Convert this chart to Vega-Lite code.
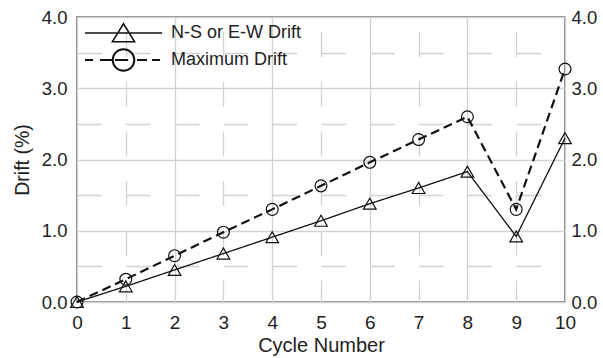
{
  "$schema": "https://vega.github.io/schema/vega-lite/v6.json",
  "width": 488,
  "height": 285,
  "autosize": "none",
  "padding": {"left": 77, "top": 17, "right": 38, "bottom": 56},
  "background": "white",
  "config": {
    "view": {"stroke": "#666666", "strokeWidth": 1.5},
    "font": "Liberation Sans",
    "axis": {
      "domain": false,
      "ticks": false,
      "labelFont": "Liberation Sans",
      "labelFontSize": 18.5,
      "labelColor": "#222222",
      "titleFont": "Liberation Sans",
      "titleFontSize": 19.5,
      "titleFontWeight": "normal",
      "titleColor": "#222222",
      "gridColor": "#d2d2d2",
      "gridWidth": 1.3,
      "gridOpacity": 1
    }
  },
  "data": {
    "values": [
      {"cycle": 0, "series": "N-S or E-W Drift", "kind": "NS", "drift": 0.0},
      {"cycle": 1, "series": "N-S or E-W Drift", "kind": "NS", "drift": 0.22},
      {"cycle": 2, "series": "N-S or E-W Drift", "kind": "NS", "drift": 0.45},
      {"cycle": 3, "series": "N-S or E-W Drift", "kind": "NS", "drift": 0.68},
      {"cycle": 4, "series": "N-S or E-W Drift", "kind": "NS", "drift": 0.91},
      {"cycle": 5, "series": "N-S or E-W Drift", "kind": "NS", "drift": 1.14},
      {"cycle": 6, "series": "N-S or E-W Drift", "kind": "NS", "drift": 1.38},
      {"cycle": 7, "series": "N-S or E-W Drift", "kind": "NS", "drift": 1.6},
      {"cycle": 8, "series": "N-S or E-W Drift", "kind": "NS", "drift": 1.83},
      {"cycle": 9, "series": "N-S or E-W Drift", "kind": "NS", "drift": 0.92},
      {"cycle": 10, "series": "N-S or E-W Drift", "kind": "NS", "drift": 2.3},
      {"cycle": 0, "series": "Maximum Drift", "kind": "MAX", "drift": 0.0},
      {"cycle": 1, "series": "Maximum Drift", "kind": "MAX", "drift": 0.32},
      {"cycle": 2, "series": "Maximum Drift", "kind": "MAX", "drift": 0.65},
      {"cycle": 3, "series": "Maximum Drift", "kind": "MAX", "drift": 0.98},
      {"cycle": 4, "series": "Maximum Drift", "kind": "MAX", "drift": 1.3},
      {"cycle": 5, "series": "Maximum Drift", "kind": "MAX", "drift": 1.63},
      {"cycle": 6, "series": "Maximum Drift", "kind": "MAX", "drift": 1.96},
      {"cycle": 7, "series": "Maximum Drift", "kind": "MAX", "drift": 2.28},
      {"cycle": 8, "series": "Maximum Drift", "kind": "MAX", "drift": 2.6},
      {"cycle": 9, "series": "Maximum Drift", "kind": "MAX", "drift": 1.3},
      {"cycle": 10, "series": "Maximum Drift", "kind": "MAX", "drift": 3.27}
    ]
  },
  "encoding": {
    "x": {
      "field": "cycle",
      "type": "quantitative",
      "scale": {"domain": [0, 10], "nice": false},
      "axis": {
        "title": "Cycle Number",
        "values": [0, 1, 2, 3, 4, 5, 6, 7, 8, 9, 10],
        "format": "d",
        "labelFontSize": 19,
        "labelFlush": false,
        "labelPadding": 11,
        "titlePadding": 3,
        "titleFontSize": 20,
        "grid": true,
        "gridDash": {"condition": {"test": "datum.value % 2 === 1", "value": [25, 24.7]}, "value": []},
        "gridDashOffset": 35.2
      }
    }
  },
  "layer": [
    {
      "mark": {"type": "line", "color": "#111111"},
      "encoding": {
        "y": {
          "field": "drift",
          "type": "quantitative",
          "scale": {"domain": [0, 4], "nice": false},
          "axis": {
            "orient": "left",
            "title": "Drift (%)",
            "values": [0, 0.5, 1, 1.5, 2, 2.5, 3, 3.5, 4],
            "labelExpr": "datum.value % 1 === 0 ? format(datum.value, '.1f') : ''",
            "labelOverlap": false,
            "labelPadding": 10,
            "titlePadding": 9,
            "grid": true,
            "gridDash": {"condition": {"test": "datum.value % 1 !== 0", "value": [24.4, 24.4]}, "value": []}
          }
        },
        "detail": {"field": "kind", "type": "nominal"},
        "color": {
          "field": "series",
          "type": "nominal",
          "scale": {"domain": ["N-S or E-W Drift", "Maximum Drift"], "range": ["#111111", "#111111"]},
          "legend": {
            "orient": "none",
            "legendX": 8,
            "legendY": 7,
            "title": null,
            "padding": 0,
            "symbolType": "M-1,0H1",
            "symbolSize": 5929,
            "symbolStrokeColor": "#111111",
            "symbolFillColor": "transparent",
            "labelFont": "Liberation Sans",
            "labelFontSize": 18,
            "labelColor": "#222222",
            "rowPadding": 0,
            "encode": {
              "symbols": {
                "update": {
                  "shape": {"signal": "datum.value === 'Maximum Drift' ? 'M-1,0H-0.79M-0.61,0H-0.3M-0.22,0H0.12M0.35,0H0.61M0.74,0H0.95M0.28,0A0.28,0.28 0 1,1 -0.28,0A0.28,0.28 0 1,1 0.28,0Z' : 'M-1,0H1M0,-0.24L0.29,0.23L-0.29,0.23Z'"},
                  "size": {"value": 5929},
                  "x": {"value": 38.5},
                  "strokeWidth": {"signal": "datum.value === 'Maximum Drift' ? 2 : 1.5"},
                  "stroke": {"value": "#111111"},
                  "fill": {"value": "transparent"}
                }
              },
              "labels": {
                "update": {
                  "x": {"value": 86}
                }
              }
            }
          }
        },
        "strokeDash": {
          "field": "kind",
          "type": "nominal",
          "scale": {"domain": ["NS", "MAX"], "range": [[1, 0], [9, 5]]},
          "legend": null
        },
        "strokeWidth": {
          "field": "kind",
          "type": "nominal",
          "scale": {"domain": ["NS", "MAX"], "range": [1.3, 2.2]},
          "legend": null
        }
      }
    },
    {
      "mark": {"type": "point", "filled": false, "stroke": "#111111", "strokeWidth": 1.2, "opacity": 1},
      "encoding": {
        "y": {
          "field": "drift",
          "type": "quantitative",
          "scale": {"domain": [0, 4], "nice": false},
          "axis": {
            "orient": "right",
            "title": null,
            "values": [0, 1, 2, 3, 4],
            "format": ".1f",
            "labelPadding": 6,
            "grid": false
          }
        },
        "shape": {
          "field": "kind",
          "type": "nominal",
          "scale": {"domain": ["NS", "MAX"], "range": ["triangle-up", "circle"]},
          "legend": null
        },
        "size": {
          "field": "kind",
          "type": "nominal",
          "scale": {"domain": ["NS", "MAX"], "range": [160, 140]},
          "legend": null
        }
      }
    }
  ],
  "resolve": {"axis": {"y": "independent"}}
}
